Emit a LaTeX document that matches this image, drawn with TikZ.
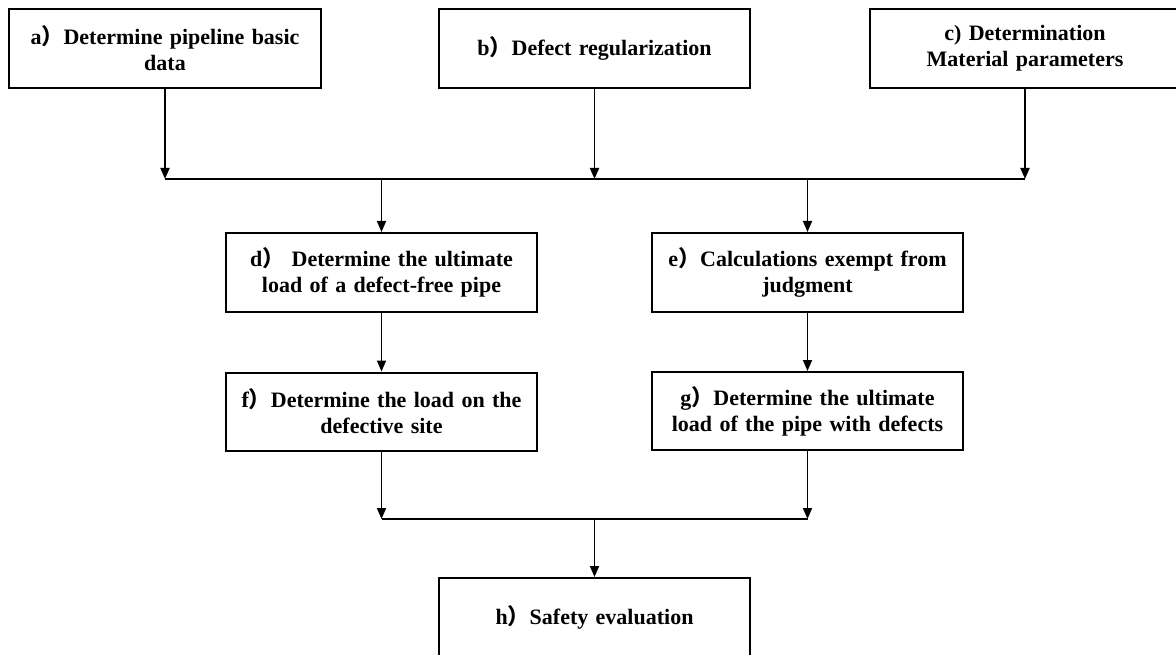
\documentclass[tikz,border=0pt]{standalone}
\usepackage{fontspec}
\setmainfont{Liberation Serif}
\newfontfamily\cjk{Noto Sans CJK SC}
\usepackage{tikz}
\usetikzlibrary{arrows.meta, positioning}
\newcommand{\fwparen}{{\cjk ）}}

\begin{document}
\begin{tikzpicture}[
  x=1pt, y=1pt,
  font=\fontsize{22}{26}\selectfont\bfseries,
  stepbox/.style={rectangle, draw=black, line width=2pt, minimum width=311pt,
    minimum height=79pt, text width=305pt, align=center, inner sep=0pt},
  link/.style={line width=1.8pt},
  arrow/.style={-{Triangle[width=9pt, length=11pt]}, line width=1.8pt},
]
\useasboundingbox (0,0) rectangle (1176,-655);

% === Input boxes ===
\node[stepbox, minimum width=312pt] (basic) at (165,-48.5)
  {a\fwparen Determine pipeline basic\\data};
\node[stepbox] (regular) at (594.5,-48.5) {b\fwparen Defect regularization};
\node[stepbox] (material) at (1025,-48.5) {c) Determination\\Material parameters};

% junction lines
\coordinate (jtop) at (0,-179);
\coordinate (jbot) at (0,-519);

% === Middle boxes ===
\node[stepbox] (freeload) at (381.5,-272.5)
  {d\fwparen\ Determine the ultimate\\load of a defect-free pipe};
\node[stepbox] (exempt) at (807.5,-272.5)
  {e\fwparen Calculations exempt from\\judgment};
\node[stepbox, minimum height=78pt] (siteload) at (381.5,-411.5)
  {f\fwparen Determine the load on the\\defective site};
\node[stepbox, minimum height=78pt] (defload) at (807.5,-411)
  {g\fwparen Determine the ultimate\\load of the pipe with defects};

% === Output box ===
\node[stepbox] (safety) at (594.5,-617.5) {h\fwparen Safety evaluation};

% === Arrows ===
\draw[arrow] (basic.south) -- (basic.south |- jtop);
\draw[arrow] (regular.south) -- (regular.south |- jtop);
\draw[arrow] (material.south) -- (material.south |- jtop);
\draw[link] (basic.south |- jtop) -- (material.south |- jtop);
\draw[arrow] (freeload.north |- jtop) -- (freeload.north);
\draw[arrow] (exempt.north |- jtop) -- (exempt.north);

\draw[arrow] (freeload) -- (siteload);
\draw[arrow] (exempt) -- (defload);

\draw[arrow] (siteload.south) -- (siteload.south |- jbot);
\draw[arrow] (defload.south) -- (defload.south |- jbot);
\draw[link] (siteload.south |- jbot) -- (defload.south |- jbot);
\draw[arrow] (safety.north |- jbot) -- (safety.north);

\end{tikzpicture}
\end{document}
